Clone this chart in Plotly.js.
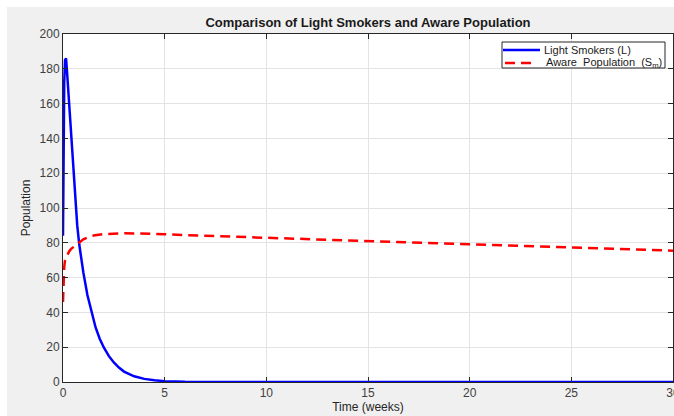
<!DOCTYPE html>
<html>
<head>
<meta charset="utf-8">
<script src="https://cdn.plot.ly/plotly-3.0.1.min.js"></script>
<style>
  html, body { margin: 0; padding: 0; background: #ffffff; width: 674px; height: 416px; overflow: hidden; }
  #chart { position: absolute; left: 7px; top: 7px; width: 667px; height: 409px; }
</style>
</head>
<body>
<div id="chart"></div>
<script>
// Time (weeks)
const timeL = [0, 0.03, 0.06, 0.1, 0.15, 0.2, 0.3, 0.4, 0.5, 0.6, 0.7, 0.8, 1.0, 1.2, 1.4, 1.6, 1.8, 2.0, 2.25, 2.5, 2.75, 3.0, 3.5, 4.0, 4.5, 5.0, 6.0, 7.0, 8.0, 10, 15, 20, 25, 30];
// Light smokers L
const lightSmokers = [84, 140, 172, 185, 186, 178, 160, 140, 120, 103, 90, 79, 63, 50, 40, 31.5, 25, 20, 15, 11.2, 8.3, 6.0, 3.3, 1.8, 1.0, 0.5, 0.15, 0.05, 0.02, 0, 0, 0, 0, 0];

const timeS = [0, 0.03, 0.06, 0.1, 0.2, 0.3, 0.4, 0.55, 0.7, 0.85, 1.0, 1.25, 1.5, 2.0, 2.5, 3.0, 3.5, 4.0, 5.0, 6.0, 7.0, 8.0, 10, 12.5, 15, 17.5, 20, 22.5, 25, 27.5, 30];
// Aware population S_m
const awarePop = [46, 60, 66, 70, 73, 75, 76.5, 78, 79.5, 80.8, 82, 83.3, 84.2, 85, 85.4, 85.5, 85.4, 85.3, 84.9, 84.4, 84.0, 83.6, 82.8, 81.8, 80.9, 80.0, 79.1, 78.2, 77.3, 76.4, 75.5];

const xTicks = [0, 5, 10, 15, 20, 25, 30];
const yTicks = [0, 20, 40, 60, 80, 100, 120, 140, 160, 180, 200];
const seriesNames = ['Light Smokers (L)', 'Aware&nbsp; Population&nbsp; (S<sub>m</sub>)'];
const seriesColors = ['#0000ff', '#ff0000'];
const seriesDash = ['solid', '10px,6px'];

const traces = [
  {
    x: timeL, y: lightSmokers, type: 'scatter', mode: 'lines',
    name: seriesNames[0], showlegend: false,
    line: { color: seriesColors[0], width: 2.5 }
  },
  {
    x: timeS, y: awarePop, type: 'scatter', mode: 'lines',
    name: seriesNames[1], showlegend: false,
    line: { color: seriesColors[1], width: 2.5, dash: seriesDash[1] }
  }
];

const axisCommon = {
  showline: true, linecolor: '#262626', linewidth: 1, mirror: 'allticks',
  ticks: 'inside', ticklen: 5, tickcolor: '#262626', tickwidth: 1,
  showgrid: true, gridcolor: '#e3e3e3', gridwidth: 1,
  zeroline: false, ticklabeloverflow: 'allow',
  tickfont: { family: 'Liberation Sans, Arial, sans-serif', size: 12, color: '#404040' }
};

// legend built in plot-area (paper) fractions from pixel positions
const px = v => (v - 63) / 610;
const py = v => (382 - v) / 348;
const legendRows = [50, 63];
const shapes = [
  { type: 'rect', xref: 'paper', yref: 'paper', x0: px(502), x1: px(665), y0: py(68), y1: py(42),
    fillcolor: '#ffffff', line: { color: '#262626', width: 1 }, layer: 'above' }
];
const annotations = [];
legendRows.forEach((ry, i) => {
  shapes.push({ type: 'line', xref: 'paper', yref: 'paper',
    x0: px(i === 0 ? 503 : 505), x1: px(i === 0 ? 540 : 533), y0: py(ry), y1: py(ry),
    line: { color: seriesColors[i], width: 2.5, dash: i === 0 ? 'solid' : '10px,6px' }, layer: 'above' });
  annotations.push({ xref: 'paper', yref: 'paper', x: px(i === 0 ? 542 : 544), y: py(ry),
    xanchor: 'left', yanchor: 'middle', showarrow: false, text: seriesNames[i],
    font: { family: 'Liberation Sans, Arial, sans-serif', size: 11, color: '#1a1a1a' } });
});

const layout = {
  width: 667, height: 409,
  paper_bgcolor: '#f0f0f0', plot_bgcolor: '#ffffff',
  margin: { l: 56, r: 1, t: 27, b: 34 },
  font: { family: 'Liberation Sans, Arial, sans-serif', color: '#262626' },
  title: {
    text: '<b>Comparison of Light Smokers and Aware Population</b>',
    font: { family: 'Liberation Sans, Arial, sans-serif', size: 13, color: '#1a1a1a' },
    x: 0.5, xref: 'paper', xanchor: 'center',
    y: 1 - 15 / 409, yref: 'container', yanchor: 'middle'
  },
  xaxis: Object.assign({}, axisCommon, {
    range: [0, 30], tickvals: xTicks, ticktext: xTicks.map(String),
    title: { text: 'Time (weeks)', standoff: 2, font: { size: 12, color: '#262626' } }
  }),
  yaxis: Object.assign({}, axisCommon, {
    range: [0, 200], tickvals: yTicks, ticktext: yTicks.map(String),
    title: { text: 'Population', standoff: 6, font: { size: 12, color: '#262626' } }
  }),
  showlegend: false,
  shapes: shapes,
  annotations: annotations
};

Plotly.newPlot('chart', traces, layout, { displayModeBar: false, staticPlot: true });
</script>
</body>
</html>
